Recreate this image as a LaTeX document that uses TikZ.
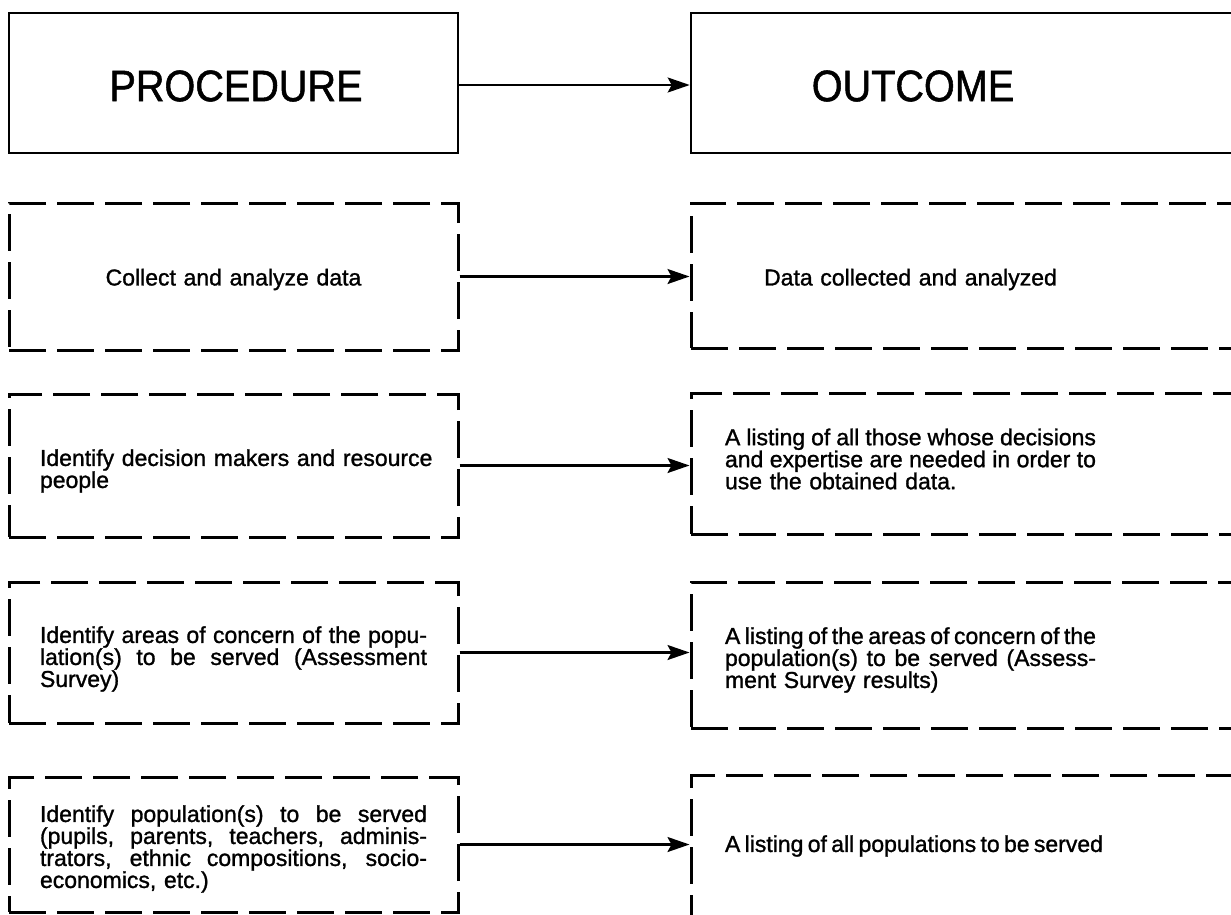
\documentclass[tikz,border=0pt]{standalone}
\usepackage{fontspec}
\setmainfont[FakeBold=1.2]{Liberation Sans}
\newfontfamily\headfont[FakeStretch=0.9,FakeBold=1.2]{Liberation Sans}
\usetikzlibrary{arrows.meta}
% one justified line: interword spaces stretch evenly to the given width
\newcommand\justline[2]{\leavevmode\hbox to #1{\spaceskip=6.4pt plus 1fil minus 2.5pt
  \xspaceskip=\spaceskip\relax #2}}
\newcommand\fillL[1]{\justline{387pt}{#1}}
\newcommand\fillR[1]{\justline{371pt}{#1}}
\begin{document}
\begin{tikzpicture}[x=1pt,y=-1pt,
  headbox/.style={draw,line width=2.6pt,rectangle,inner sep=0pt},
  headtext/.style={inner sep=0pt,font=\headfont\fontsize{44}{48}\selectfont},
  dashbox/.style={draw,line width=3pt,dash pattern=on 37pt off 11pt,
    rectangle,inner sep=0pt},
  bodytext/.style={inner sep=0pt,font=\fontsize{23}{22}\selectfont,align=left},
  lefttext/.style={bodytext,text width=387pt},
  righttext/.style={bodytext,text width=371pt},
  link/.style={line width=2.2pt,-{Stealth[length=22pt,width=15pt,inset=4pt]}}
]
\path[use as bounding box,clip] (0,0) rectangle (1231,914);

% heading row
\node[headbox,minimum width=449pt,minimum height=140pt] (proc) at (233.5,83) {};
\node[headbox,minimum width=569pt,minimum height=140pt] (outc) at (975.5,83) {};
\node[headtext] (proct) at (236,86) {PROCEDURE};
\node[headtext] (outct) at (913,86) {OUTCOME};

% dashed step boxes, procedure column
\node[dashbox,minimum width=449pt,minimum height=147pt] (p1) at (233.5,276.5) {};
\node[dashbox,minimum width=449pt,minimum height=143pt] (p2) at (233.5,465.5) {};
\node[dashbox,minimum width=449pt,minimum height=141pt] (p3) at (233.5,652.5) {};
\node[dashbox,minimum width=449pt,minimum height=135pt] (p4) at (233.5,844.5) {};

% dashed step boxes, outcome column
\node[dashbox,minimum width=569pt,minimum height=145pt] (o1) at (975.5,275.5) {};
\node[dashbox,minimum width=569pt,minimum height=141pt] (o2) at (975.5,463.5) {};
\node[dashbox,minimum width=569pt,minimum height=146pt] (o3) at (975.5,655) {};
\node[dashbox,dash phase=27pt,minimum width=569pt,minimum height=155pt] (o4) at (975.5,852.5) {};

% procedure texts
\node[lefttext,align=center] (pt1) at (233.5,279.5) {Collect and analyze data};
\node[lefttext] (pt2) at (233.5,471) {\mbox{Identify decision makers and resource}\\people};
\node[lefttext] (pt3) at (233.5,659) {\fillL{Identify areas of concern of the popu-}\\
  \fillL{lation(s) to be served (Assessment}\\Survey)};
\node[lefttext] (pt4) at (233.5,849) {\fillL{Identify population(s) to be served}\\
  \fillL{(pupils, parents, teachers, adminis-}\\
  \fillL{trators, ethnic compositions, socio-}\\economics, etc.)};

% outcome texts
\node[righttext,align=center] (ot1) at (910.5,279.5) {Data collected and analyzed};
\node[righttext] (ot2) at (910.5,459) {\fillR{A listing of all those whose decisions}\\
  \fillR{and expertise are needed in order to}\\use the obtained data.};
\node[righttext] (ot3) at (910.5,660) {\fillR{A listing of the areas of concern of the}\\
  \fillR{population(s) to be served (Assess-}\\ment Survey results)};
\node[righttext] (ot4) at (910.5,846) {\justline{378pt}{A listing of all populations to be served}};

% connectors
\draw[link] (proc.east |- 0,85) -- (outc.west |- 0,85);
\draw[link] (p1.east) -- (p1.east -| o1.west);
\draw[link] (p2.east) -- (p2.east -| o2.west);
\draw[link] (p3.east) -- (p3.east -| o3.west);
\draw[link] (p4.east) -- (p4.east -| o4.west);
\end{tikzpicture}
\end{document}
